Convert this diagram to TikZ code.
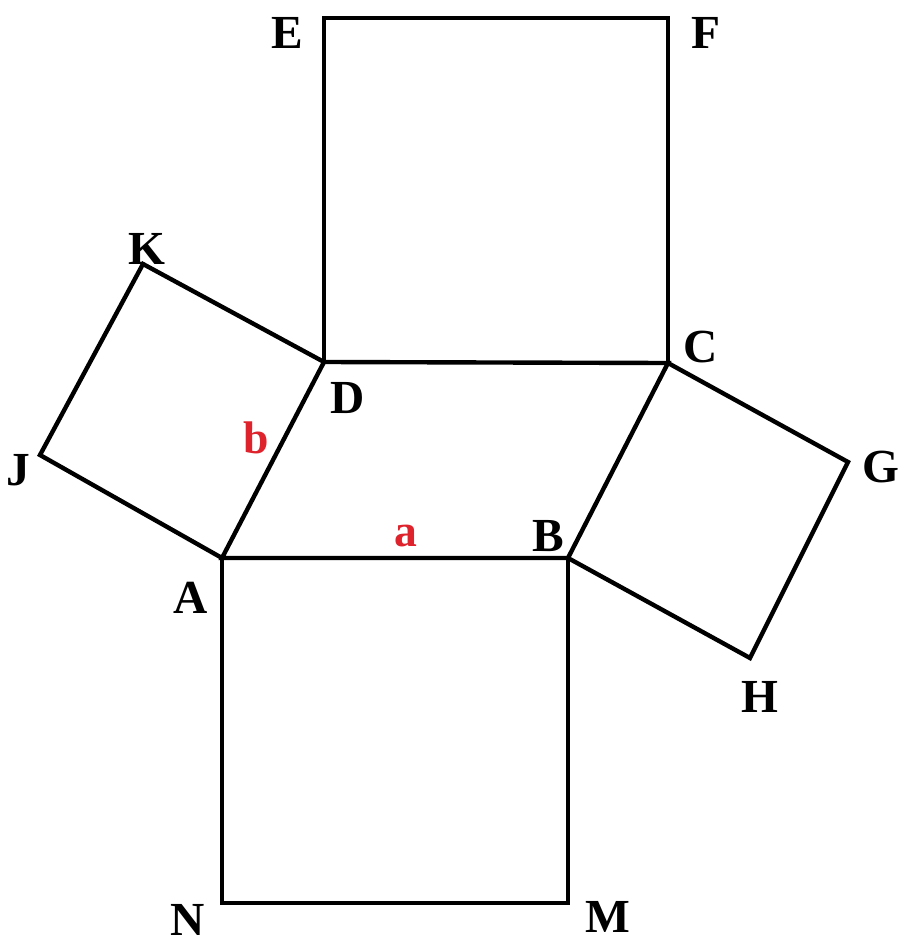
\documentclass[tikz,border=0pt]{standalone}
\usepackage{fontspec}
\setmainfont{Liberation Serif}
\definecolor{lblred}{RGB}{222,35,45}
\begin{document}
\begin{tikzpicture}[x=0.02cm,y=-0.02cm,
  edge/.style={line width=2.5pt,line join=miter},
  lbl/.style={font=\fontsize{27}{27}\selectfont\bfseries,inner sep=0pt},
  rlbl/.style={font=\fontsize{26}{26}\selectfont\bfseries,text=lblred,inner sep=0pt}]
\useasboundingbox (0,0) rectangle (902,946);
\coordinate (A) at (222,558);
\coordinate (B) at (568,558);
\coordinate (C) at (668,363);
\coordinate (D) at (324,362);
\coordinate (E) at (324,18);
\coordinate (F) at (668,18);
\coordinate (K) at (143,264);
\coordinate (J) at (40,455);
\coordinate (G) at (848,462);
\coordinate (H) at (750,658);
\coordinate (N) at (222,903);
\coordinate (M) at (568,903);
\draw[edge] (A) -- (B) -- (C) -- (D) -- cycle;
\draw[edge] (D) -- (E) -- (F) -- (C);
\draw[edge] (D) -- (K) -- (J) -- (A);
\draw[edge] (C) -- (G) -- (H) -- (B);
\draw[edge] (A) -- (N) -- (M) -- (B);
\node[lbl] (lE) at (287,33) {E};
\node[lbl] (lF) at (706,33) {F};
\node[lbl] (lK) at (147,249) {K};
\node[lbl] (lD) at (348,398) {D};
\node[lbl] (lC) at (701,347) {C};
\node[lbl] (lJ) at (18,470) {J};
\node[lbl] (lB) at (548,536) {B};
\node[lbl] (lA) at (191,598) {A};
\node[lbl] (lG) at (881,467) {G};
\node[lbl] (lH) at (760,697) {H};
\node[lbl] (lN) at (188,920) {N};
\node[lbl] (lM) at (608,917) {M};
\node[rlbl,anchor=base] (la) at (406,546) {a};
\node[rlbl,anchor=base] (lb) at (256,453) {b};
\end{tikzpicture}
\end{document}
